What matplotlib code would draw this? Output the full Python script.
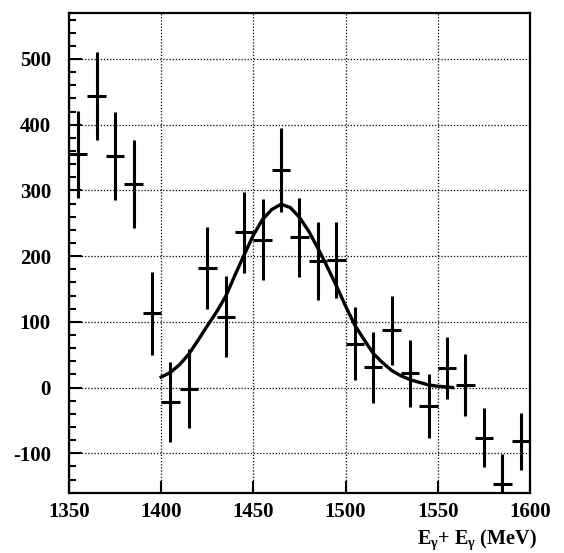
import numpy as np
import matplotlib
matplotlib.use('Agg')
from matplotlib import pyplot as plt
from matplotlib.ticker import MultipleLocator

plt.rcParams['font.family'] = ['Liberation Serif', 'DejaVu Serif']
plt.rcParams['font.weight'] = 'bold'
plt.rcParams['axes.unicode_minus'] = False
plt.rcParams['mathtext.fontset'] = 'custom'
plt.rcParams['mathtext.rm'] = 'Liberation Serif:bold'
plt.rcParams['mathtext.it'] = 'Liberation Serif:bold'

# measured spectrum (10 MeV bins)
energy = [1355, 1365, 1375, 1385, 1395, 1405, 1415, 1425, 1435, 1445, 1455, 1465, 1475,
          1485, 1495, 1505, 1515, 1525, 1535, 1545, 1555, 1565, 1575, 1585, 1595]
counts = [355, 443, 352, 310, 113, -22, -2, 182, 108, 236, 225, 331, 229,
          193, 194, 67, 31, 87, 22, -28, 30, 4, -76, -146, -82]
errors = [66, 67, 67, 67, 63, 61, 60, 63, 62, 62, 62, 64, 60,
          59, 58, 56, 54, 53, 51, 49, 47, 47, 45, 45, 43]

# fitted curve
fit_energy = [1400, 1405, 1410, 1415, 1420, 1425, 1430, 1435, 1440, 1445, 1450, 1455, 1460,
              1465, 1470, 1475, 1480, 1485, 1490, 1495, 1500, 1505, 1510, 1515, 1520,
              1525, 1530, 1535, 1540, 1545, 1550, 1555, 1558]
fit_counts = [16, 23, 35, 51, 72, 94, 115, 139, 171, 202, 232, 256, 271,
              279, 274, 259, 238, 212, 184, 155, 124, 95, 73, 52, 38,
              26, 18, 12, 8, 4, 2, 1, 0]

fig = plt.figure(figsize=(5.64, 5.53), dpi=100)
ax = fig.add_axes([0.1223, 0.109, 0.8174, 0.8675])

ax.errorbar(energy, counts, yerr=errors, xerr=5, fmt='none', ecolor='black',
            elinewidth=2.2, capsize=0, zorder=3)
ax.plot(fit_energy, fit_counts, color='black', linewidth=2.4, zorder=4)

ax.set_xlim(1350, 1600)
ax.set_ylim(-160, 570)
ax.xaxis.set_major_locator(MultipleLocator(50))
ax.yaxis.set_major_locator(MultipleLocator(100))
ax.yaxis.set_minor_locator(MultipleLocator(20))

ax.grid(True, which='major', color='black', linestyle=(0, (1, 1.5)), linewidth=0.9)

ax.tick_params(axis='y', which='major', direction='in', length=9, width=1.5, pad=13,
               labelsize=15)
ax.tick_params(axis='y', which='minor', direction='in', length=5, width=1.5)
ax.tick_params(axis='x', which='major', direction='in', length=9, width=1.5, pad=7,
               labelsize=15)
ax.tick_params(right=False, top=False)
for lab in ax.get_xticklabels() + ax.get_yticklabels():
    lab.set_fontweight('bold')

for side in ['left', 'bottom', 'top', 'right']:
    ax.spines[side].set_linewidth(1.6)

ax.set_xlabel(r'E$_\gamma$+ E$_\gamma$ (MeV)', fontsize=14.5, fontweight='bold',
              ha='center', va='center')
ax.xaxis.set_label_coords(0.885, -0.098)

plt.savefig('out.png', dpi=100)
